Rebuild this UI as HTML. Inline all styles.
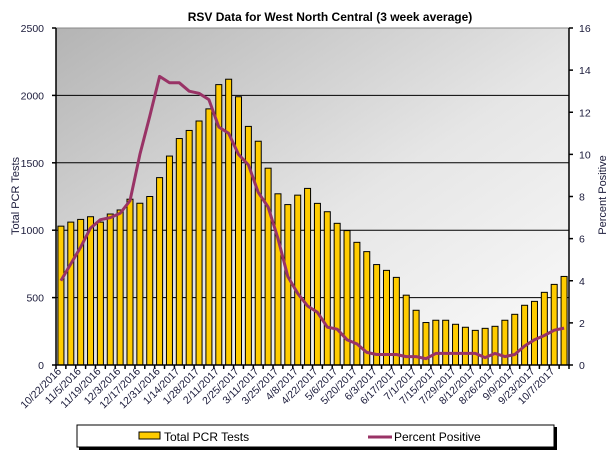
<!DOCTYPE html>
<html><head><meta charset="utf-8"><style>
html,body{margin:0;padding:0;background:#fff;}
svg{display:block;font-family:"Liberation Sans",sans-serif;}
</style></head><body>
<svg id="c" width="616" height="462" xmlns="http://www.w3.org/2000/svg">
<defs>
<linearGradient id="g" x1="0" y1="0" x2="1" y2="1">
<stop offset="0" stop-color="#b4b4b4"/><stop offset="0.55" stop-color="#e6e6e6"/><stop offset="1" stop-color="#fbfbfb"/>
</linearGradient>
</defs>
<rect x="0" y="0" width="616" height="462" fill="#fff"/>
<rect x="56" y="28" width="513" height="337" fill="url(#g)"/>
<line x1="56" y1="28" x2="569" y2="28" stroke="#888" stroke-width="1"/>
<g id="grid" stroke="#000" stroke-width="1"></g>
<g id="bars"></g>
<polyline id="line" fill="none" stroke="#993366" stroke-width="3" stroke-linejoin="round"/>
<g id="axes" stroke="#000" stroke-width="1.5"></g>
<g id="lbl" font-size="10.5" fill="#1a1a3a"></g>
<text x="330" y="21" font-size="12" font-weight="bold" text-anchor="middle" fill="#000">RSV Data for West North Central (3 week average)</text>
<text transform="translate(19,196) rotate(-90)" font-size="11" text-anchor="middle" fill="#1a1a3a">Total PCR Tests</text>
<text transform="translate(606,195) rotate(-90)" font-size="11" text-anchor="middle" fill="#1a1a3a">Percent Positive</text>
<rect x="79" y="427" width="478" height="23" fill="#000"/>
<rect x="77" y="425" width="477" height="22" fill="#fff" stroke="#000" stroke-width="1"/>
<rect x="139" y="432" width="21" height="7" fill="#ffcc00" stroke="#000" stroke-width="1"/>
<text x="164" y="441" font-size="12" fill="#000">Total PCR Tests</text>
<line x1="368" y1="437" x2="392" y2="437" stroke="#993366" stroke-width="3"/>
<text x="394" y="441" font-size="12" fill="#000">Percent Positive</text>
</svg>
<script>
var NS="http://www.w3.org/2000/svg";
function el(p,t,a,txt){var e=document.createElementNS(NS,t);for(var k in a)e.setAttribute(k,a[k]);if(txt)e.textContent=txt;document.getElementById(p).appendChild(e);return e;}
var bars=[1030,1060,1080,1100,1060,1120,1150,1230,1200,1250,1390,1550,1680,1740,1810,1900,2080,2120,1990,1770,1660,1460,1270,1190,1260,1310,1199,1137,1051,997,910,841,745,702,650,518,406,315,332,332,302,280,257,272,287,332,376,443,472,539,598,657];
var pct=[4,4.8,5.6,6.5,6.9,7.0,7.2,7.8,10.0,11.8,13.7,13.4,13.4,13.0,12.9,12.6,11.3,11.0,10.0,9.5,8.2,7.5,6.0,4.2,3.4,2.8,2.5,1.8,1.7,1.2,1.0,0.6,0.5,0.5,0.5,0.4,0.4,0.3,0.55,0.55,0.55,0.55,0.55,0.35,0.55,0.4,0.5,0.9,1.2,1.4,1.65,1.75];
var L=56,R=569,T=28,B=365,n=52,w=(R-L)/n;
function yl(v){return B-v*(B-T)/2500;}
function yr(v){return B-v*(B-T)/16;}
for(var v=500;v<=2000;v+=500)el("grid","line",{x1:L,x2:R,y1:yl(v),y2:yl(v)});
var pts=[];
for(var i=0;i<n;i++){var cx=L+(i+0.5)*w;
el("bars","rect",{x:cx-3,y:yl(bars[i]),width:6,height:B-yl(bars[i]),fill:"#ffcc00",stroke:"#000","stroke-width":1});
pts.push(cx.toFixed(1)+","+yr(pct[i]).toFixed(1));}
document.getElementById("line").setAttribute("points",pts.join(" "));
el("axes","line",{x1:L,x2:L,y1:T,y2:B});el("axes","line",{x1:R,x2:R,y1:T,y2:B});el("axes","line",{x1:L,x2:R,y1:B,y2:B});
for(var v=0;v<=2500;v+=500){el("axes","line",{x1:L-4,x2:L,y1:yl(v),y2:yl(v)});el("lbl","text",{x:L-12,y:yl(v)+4,"text-anchor":"end"},""+v);}
for(var v=0;v<=16;v+=2){el("axes","line",{x1:R,x2:R+4,y1:yr(v),y2:yr(v)});el("lbl","text",{x:R+10,y:yr(v)+4},""+v);}
for(var i=0;i<=n;i++)el("axes","line",{x1:L+i*w,x2:L+i*w,y1:B,y2:B+4});
var d=new Date(2016,9,22);
for(var i=0;i<n;i+=2){var dd=new Date(d.getTime()+i*7*86400000+3600000*12);var s=(dd.getMonth()+1)+"/"+dd.getDate()+"/"+dd.getFullYear();
var cx=L+(i+0.5)*w;el("lbl","text",{transform:"translate("+(cx+1)+",372) rotate(-45)","text-anchor":"end"},s);}
</script>
</body></html>
